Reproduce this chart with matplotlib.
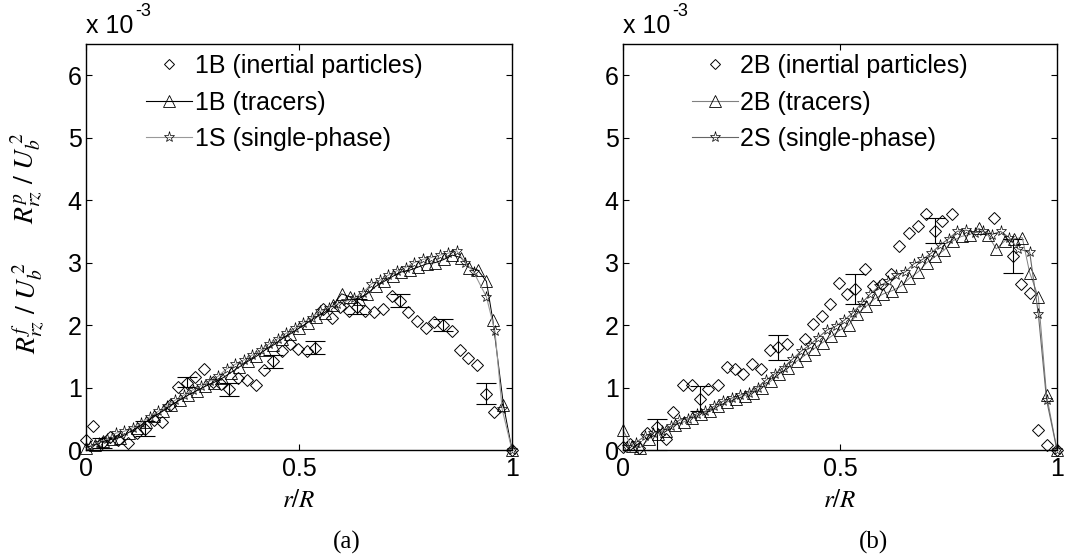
"""Two-panel Reynolds shear stress profiles: inertial particles, tracers, single-phase."""

import matplotlib

matplotlib.use("Agg")
import matplotlib.pyplot as plt
from matplotlib.lines import Line2D

plt.rcParams["font.family"] = ["Liberation Sans", "DejaVu Sans"]
plt.rcParams["mathtext.fontset"] = "stix"

# values are in units of 1e-3
# ---- panel (a): case 1 ----
r_p1 = [0.000, 0.017, 0.037, 0.056, 0.076, 0.098, 0.119, 0.139, 0.159, 0.179,
        0.198, 0.217, 0.236, 0.257, 0.277, 0.297, 0.317, 0.336, 0.357, 0.377,
        0.398, 0.419, 0.438, 0.459, 0.479, 0.498, 0.518, 0.538, 0.557, 0.577,
        0.596, 0.617, 0.636, 0.655, 0.677, 0.697, 0.718, 0.737, 0.757, 0.776,
        0.798, 0.817, 0.837, 0.858, 0.878, 0.897, 0.919, 0.938, 0.958, 1.000]
v_p1 = [0.16, 0.38, 0.11, 0.21, 0.16, 0.12, 0.28, 0.33, 0.48, 0.45,
        0.72, 1.01, 1.08, 1.17, 1.29, 1.09, 1.06, 0.97, 1.15, 1.12,
        1.04, 1.28, 1.42, 1.59, 1.69, 1.62, 1.58, 1.64, 2.26, 2.12,
        2.29, 2.23, 2.29, 2.23, 2.21, 2.25, 2.47, 2.39, 2.21, 2.07,
        1.95, 2.05, 2.00, 1.91, 1.60, 1.48, 1.36, 0.90, 0.61, 0.00]

err_r1 = [0.037, 0.139, 0.236, 0.336, 0.438, 0.538, 0.636, 0.737, 0.837, 0.938]
err_v1 = [0.11, 0.35, 1.09, 0.97, 1.42, 1.64, 2.29, 2.39, 2.00, 0.90]
err_e1 = [0.08, 0.12, 0.08, 0.10, 0.10, 0.10, 0.12, 0.10, 0.10, 0.17]

r_t1 = [0.00, 0.02, 0.04, 0.06, 0.08, 0.10, 0.12, 0.14, 0.16, 0.18,
        0.20, 0.22, 0.24, 0.26, 0.28, 0.30, 0.32, 0.34, 0.36, 0.38,
        0.40, 0.42, 0.44, 0.46, 0.48, 0.50, 0.52, 0.54, 0.56, 0.58,
        0.60, 0.62, 0.64, 0.66, 0.68, 0.70, 0.72, 0.74, 0.76, 0.78,
        0.80, 0.82, 0.84, 0.86, 0.88, 0.90, 0.92, 0.94, 0.955, 0.98, 1.00]
v_t1 = [0.04, 0.08, 0.14, 0.17, 0.20, 0.28, 0.36, 0.45, 0.54, 0.62,
        0.72, 0.80, 0.88, 0.95, 1.02, 1.08, 1.15, 1.24, 1.33, 1.42,
        1.50, 1.60, 1.68, 1.78, 1.86, 1.95, 2.04, 2.13, 2.20, 2.32,
        2.50, 2.45, 2.42, 2.50, 2.62, 2.70, 2.78, 2.85, 2.88, 2.93,
        2.98, 3.00, 3.05, 3.12, 3.08, 2.92, 2.88, 2.70, 2.08, 0.72, 0.00]

r_s1 = [0.01, 0.03, 0.05, 0.07, 0.09, 0.11, 0.13, 0.15, 0.17, 0.19,
        0.21, 0.23, 0.25, 0.27, 0.29, 0.31, 0.33, 0.35, 0.37, 0.39,
        0.41, 0.43, 0.45, 0.47, 0.49, 0.51, 0.53, 0.55, 0.57, 0.59,
        0.61, 0.63, 0.65, 0.67, 0.69, 0.71, 0.73, 0.75, 0.77, 0.79,
        0.81, 0.83, 0.85, 0.87, 0.89, 0.91, 0.94, 0.96, 0.977, 1.00]
v_s1 = [0.07, 0.12, 0.18, 0.27, 0.30, 0.36, 0.44, 0.53, 0.62, 0.71,
        0.80, 0.88, 0.96, 1.03, 1.10, 1.18, 1.30, 1.37, 1.44, 1.52,
        1.60, 1.70, 1.78, 1.87, 1.95, 2.04, 2.12, 2.22, 2.28, 2.34,
        2.38, 2.44, 2.52, 2.66, 2.72, 2.80, 2.87, 2.92, 3.00, 3.05,
        3.08, 3.12, 3.15, 3.19, 3.00, 2.85, 2.45, 1.90, 0.65, 0.00]

# ---- panel (b): case 2 ----
r_p2 = [0.000, 0.017, 0.037, 0.055, 0.078, 0.100, 0.116, 0.139, 0.158, 0.177,
        0.197, 0.218, 0.239, 0.258, 0.277, 0.298, 0.318, 0.339, 0.358, 0.377,
        0.419, 0.437, 0.458, 0.477, 0.498, 0.516, 0.535, 0.558, 0.577, 0.597,
        0.617, 0.637, 0.659, 0.679, 0.698, 0.718, 0.736, 0.757, 0.855, 0.898,
        0.918, 0.937, 0.957, 0.978, 1.000]
v_p2 = [0.05, 0.10, 0.04, 0.27, 0.37, 0.17, 0.61, 1.04, 1.04, 0.82,
        0.97, 1.04, 1.33, 1.30, 1.22, 1.38, 1.30, 1.60, 1.65, 1.70,
        1.78, 2.02, 2.15, 2.34, 2.67, 2.50, 2.58, 2.90, 2.63, 2.66,
        2.82, 3.27, 3.47, 3.58, 3.78, 3.50, 3.66, 3.78, 3.72, 3.10,
        2.66, 2.52, 0.32, 0.08, 0.00]

err_r2 = [0.078, 0.177, 0.358, 0.535, 0.718, 0.898]
err_v2 = [0.25, 0.82, 1.64, 2.58, 3.52, 3.11]
err_e2 = [0.25, 0.20, 0.20, 0.24, 0.20, 0.27]

r_t2 = [0.00, 0.02, 0.04, 0.06, 0.08, 0.10, 0.12, 0.14, 0.16, 0.18,
        0.20, 0.22, 0.24, 0.26, 0.28, 0.30, 0.32, 0.34, 0.36, 0.38,
        0.40, 0.42, 0.44, 0.46, 0.48, 0.50, 0.52, 0.54, 0.56, 0.58,
        0.60, 0.62, 0.64, 0.66, 0.68, 0.70, 0.72, 0.74, 0.76, 0.78,
        0.80, 0.82, 0.84, 0.86, 0.88, 0.90, 0.92, 0.937, 0.957, 0.976, 1.00]
v_t2 = [0.32, 0.06, 0.04, 0.18, 0.26, 0.30, 0.40, 0.45, 0.52, 0.58,
        0.63, 0.70, 0.77, 0.82, 0.87, 0.92, 1.00, 1.10, 1.22, 1.32,
        1.42, 1.52, 1.62, 1.72, 1.82, 1.92, 2.00, 2.18, 2.30, 2.42,
        2.50, 2.55, 2.62, 2.75, 2.85, 3.00, 3.10, 3.20, 3.35, 3.42,
        3.45, 3.55, 3.45, 3.22, 3.35, 3.38, 3.40, 2.84, 2.45, 0.88, 0.00]

r_s2 = [0.01, 0.03, 0.05, 0.07, 0.09, 0.11, 0.13, 0.15, 0.17, 0.19,
        0.21, 0.23, 0.25, 0.27, 0.29, 0.31, 0.33, 0.35, 0.37, 0.39,
        0.41, 0.43, 0.45, 0.47, 0.49, 0.51, 0.53, 0.55, 0.57, 0.59,
        0.61, 0.63, 0.65, 0.67, 0.69, 0.71, 0.73, 0.75, 0.77, 0.79,
        0.81, 0.83, 0.85, 0.87, 0.89, 0.91, 0.937, 0.957, 0.976, 1.00]
v_s2 = [0.05, 0.12, 0.22, 0.28, 0.30, 0.38, 0.48, 0.50, 0.58, 0.62,
        0.70, 0.78, 0.83, 0.88, 0.92, 1.00, 1.12, 1.22, 1.32, 1.45,
        1.58, 1.68, 1.80, 1.92, 1.98, 2.08, 2.20, 2.35, 2.50, 2.62,
        2.70, 2.80, 2.85, 2.98, 3.05, 3.15, 3.28, 3.38, 3.50, 3.52,
        3.48, 3.50, 3.45, 3.50, 3.40, 3.22, 3.17, 2.18, 0.80, 0.00]

labels_a = ["1B (inertial particles)", "1B (tracers)", "1S (single-phase)"]
labels_b = ["2B (inertial particles)", "2B (tracers)", "2S (single-phase)"]

W, H = 1083, 560
FS = 18


def draw_panel(ax, rp, vp, er, ev, ee, rt, vt, rs, vs, labels, tracer_color, single_color, leg_x):
    ax.plot(rp, vp, linestyle="none", marker="D", ms=6, mfc="none", mec="k", mew=0.7, clip_on=False)
    ax.errorbar(er, ev, yerr=ee, fmt="none", ecolor="k", elinewidth=0.8, capsize=7, capthick=0.8, clip_on=False)
    ax.plot(rt, vt, color=tracer_color, lw=0.7, marker="^", ms=8, mfc="none", mec="k", mew=0.6, clip_on=False)
    ax.plot(rs, vs, color=single_color, lw=0.8, marker="*", ms=8, mfc="none", mec="k", mew=0.5, clip_on=False)

    ax.set_xlim(0, 1)
    ax.set_ylim(0, 6.5)
    ax.set_xticks([0, 0.5, 1])
    ax.set_xticklabels(["0", "0.5", "1"])
    ax.set_yticks([0, 1, 2, 3, 4, 5, 6])
    ax.tick_params(axis="both", direction="in", top=True, right=True, length=4, width=0.8, labelsize=FS)
    ax.tick_params(axis="x", pad=5)
    ax.tick_params(axis="y", pad=3)
    for spine in ax.spines.values():
        spine.set_linewidth(1.0)
    ax.set_xlabel(r"$r/R$", fontsize=FS, labelpad=5)

    handles = [
        Line2D([], [], linestyle="none", marker="D", ms=5, mfc="none", mec="k", mew=0.7),
        Line2D([], [], color=tracer_color, lw=0.8, marker="^", ms=8, mfc="none", mec="k", mew=0.6),
        Line2D([], [], color=single_color, lw=0.8, marker="*", ms=8, mfc="none", mec="k", mew=0.5),
    ]
    ax.legend(handles, labels, loc="upper left", bbox_to_anchor=(leg_x, 0.975), frameon=False,
              fontsize=FS, handlelength=1.85, handletextpad=0.1, labelspacing=0.5,
              borderpad=0, borderaxespad=0)

    base = ax.text(0.0, 1.015, "x 10", transform=ax.transAxes, fontsize=FS, ha="left", va="bottom")
    ax.annotate("-3", xy=(1, 1), xycoords=base, xytext=(1, 2), textcoords="offset points",
                fontsize=13, ha="left", va="center")


fig = plt.figure(figsize=(W / 100, H / 100), dpi=100)
ax_a = fig.add_axes([86 / W, 1 - 450 / H, 426 / W, 406 / H])
ax_b = fig.add_axes([623 / W, 1 - 450 / H, 434 / W, 406 / H])

draw_panel(ax_a, r_p1, v_p1, err_r1, err_v1, err_e1, r_t1, v_t1, r_s1, v_s1,
           labels_a, "k", "0.6", 0.141)
draw_panel(ax_b, r_p2, v_p2, err_r2, err_v2, err_e2, r_t2, v_t2, r_s2, v_s2,
           labels_b, "0.5", "0.4", 0.158)

# stacked y labels on the left panel
fig.text(27 / W, 1 - 178 / H, r"$R_{rz}^{p}\ /\ U_b^{\,2}$", rotation=90, fontsize=20,
         ha="center", va="center")
fig.text(29 / W, 1 - 308 / H, r"$R_{rz}^{f}\ /\ U_b^{\,2}$", rotation=90, fontsize=20,
         ha="center", va="center")

fig.text(347 / W, 1 - 542 / H, "(a)", family="Liberation Serif", fontsize=18, ha="center", va="center")
fig.text(873 / W, 1 - 542 / H, "(b)", family="Liberation Serif", fontsize=18, ha="center", va="center")

fig.savefig("out.png", dpi=100)
